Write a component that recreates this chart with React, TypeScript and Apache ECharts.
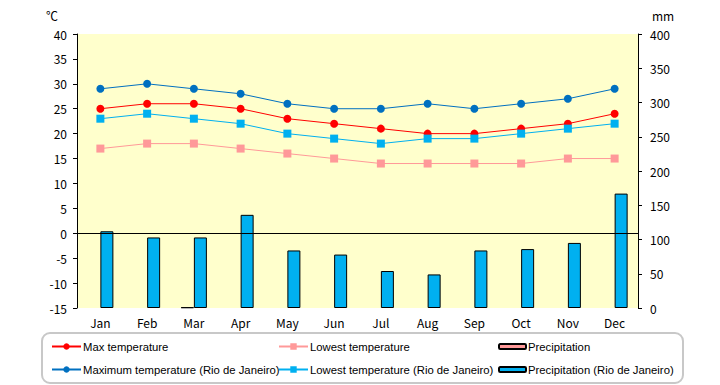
import React, { useEffect, useRef } from "react";
import * as echarts from "echarts";

const months = ["Jan", "Feb", "Mar", "Apr", "May", "Jun", "Jul", "Aug", "Sep", "Oct", "Nov", "Dec"];
const maxTemp = [25, 26, 26, 25, 23, 22, 21, 20, 20, 21, 22, 24];
const lowTemp = [17, 18, 18, 17, 16, 15, 14, 14, 14, 14, 15, 15];
const precip = [null, null, 1, null, null, null, null, null, null, null, null, null];
const maxTempRio = [29, 30, 29, 28, 26, 25, 25, 26, 25, 26, 27, 29];
const lowTempRio = [23, 24, 23, 22, 20, 19, 18, 19, 19, 20, 21, 22];
const precipRio = [112, 103, 103, 136, 84, 78, 54, 49, 84, 86, 95, 167];

const FONT = "Noto Sans CJK JP";
const LFONT = "Liberation Sans";

export default function App() {
  const ref = useRef<HTMLDivElement>(null);
  useEffect(() => {
    if (!ref.current) return;
    const chart = echarts.init(ref.current, null, { renderer: "svg" });
    const names = [
      "Max temperature",
      "Lowest temperature",
      "Precipitation",
      "Maximum temperature (Rio de Janeiro)",
      "Lowest temperature (Rio de Janeiro)",
      "Precipitation (Rio de Janeiro)",
    ];
    const legendPos = [
      { left: 51, top: 341 },
      { left: 278, top: 341 },
      { left: 498, top: 341 },
      { left: 51, top: 364 },
      { left: 278, top: 364 },
      { left: 498, top: 364 },
    ];
    const legends = names.map((n, i) => ({
      data: [n],
      left: legendPos[i].left,
      top: legendPos[i].top,
      padding: 0,
      itemWidth: i % 3 === 2 ? 27 : 29,
      itemHeight: i % 3 === 2 ? 5 : 8,
      selectedMode: false,
      textStyle: { fontFamily: LFONT, fontSize: 11.3, color: "#000", padding: [0, 0, 0, -3] },
    }));
    chart.setOption({
      animation: false,
      textStyle: { fontFamily: FONT },
      grid: { left: 77, right: 82, top: 34, bottom: 77, show: true, backgroundColor: "#FFFFCC", borderWidth: 0 },
      legend: legends,
      graphic: [
        {
          type: "rect",
          shape: { x: 42, y: 333, width: 641, height: 50, r: 8 },
          style: { fill: "none", stroke: "#c8c8c8", lineWidth: 2 },
          silent: true,
        },
        { type: "text", left: 46, top: 9, style: { text: "℃", font: `12px "${FONT}"`, fill: "#000" } },
        { type: "text", left: 652, top: 9, style: { text: "mm", font: `12px "${FONT}"`, fill: "#000" } },
      ],
      xAxis: {
        type: "category",
        data: months,
        axisLine: { show: false },
        axisTick: { show: false },
        axisLabel: { color: "#000", fontSize: 12, margin: 8, fontFamily: FONT },
      },
      yAxis: [
        {
          type: "value",
          min: -15,
          max: 40,
          interval: 5,
          axisLine: { show: true, lineStyle: { color: "#000", width: 1 } },
          axisTick: { show: true, length: 4, lineStyle: { color: "#000" } },
          axisLabel: { color: "#000", fontSize: 12, margin: 10, fontFamily: FONT },
          splitLine: { show: false },
        },
        {
          type: "value",
          min: 0,
          max: 400,
          interval: 50,
          position: "right",
          axisLine: { show: true, lineStyle: { color: "#000", width: 1 } },
          axisTick: { show: true, length: 4, lineStyle: { color: "#000" } },
          axisLabel: { color: "#000", fontSize: 12, margin: 12, fontFamily: FONT },
          splitLine: { show: false },
        },
      ],
      series: [
        {
          name: "Precipitation",
          type: "bar",
          yAxisIndex: 1,
          data: precip,
          barWidth: 13,
          barGap: "0%",
          itemStyle: { color: "#FF9999", borderColor: "#000", borderWidth: 1 },
          z: 2,
        },
        {
          name: "Precipitation (Rio de Janeiro)",
          type: "bar",
          yAxisIndex: 1,
          data: precipRio,
          barWidth: 13,
          barGap: "0%",
          itemStyle: { color: "#00B0F0", borderColor: "#000", borderWidth: 1 },
          z: 2,
        },
        {
          name: "Max temperature",
          type: "line",
          data: maxTemp,
          symbol: "circle",
          symbolSize: 8,
          lineStyle: { color: "#FF0000", width: 1 },
          itemStyle: { color: "#FF0000" },
          z: 5,
          markLine: {
            silent: true,
            symbol: "none",
            label: { show: false },
            lineStyle: { color: "#000", width: 1, type: "solid" },
            data: [{ yAxis: 0 }],
          },
        },
        {
          name: "Lowest temperature",
          type: "line",
          data: lowTemp,
          symbol: "rect",
          symbolSize: 8,
          lineStyle: { color: "#FF9999", width: 1 },
          itemStyle: { color: "#FF9999" },
          z: 5,
        },
        {
          name: "Maximum temperature (Rio de Janeiro)",
          type: "line",
          data: maxTempRio,
          symbol: "circle",
          symbolSize: 8,
          lineStyle: { color: "#0070C0", width: 1 },
          itemStyle: { color: "#0070C0" },
          z: 5,
        },
        {
          name: "Lowest temperature (Rio de Janeiro)",
          type: "line",
          data: lowTempRio,
          symbol: "rect",
          symbolSize: 8,
          lineStyle: { color: "#00B0F0", width: 1 },
          itemStyle: { color: "#00B0F0" },
          z: 5,
        },
      ],
    });
    return () => chart.dispose();
  }, []);
  return <div ref={ref} style={{ width: 720, height: 385, position: "absolute", left: 0, top: 0 }} />;
}
